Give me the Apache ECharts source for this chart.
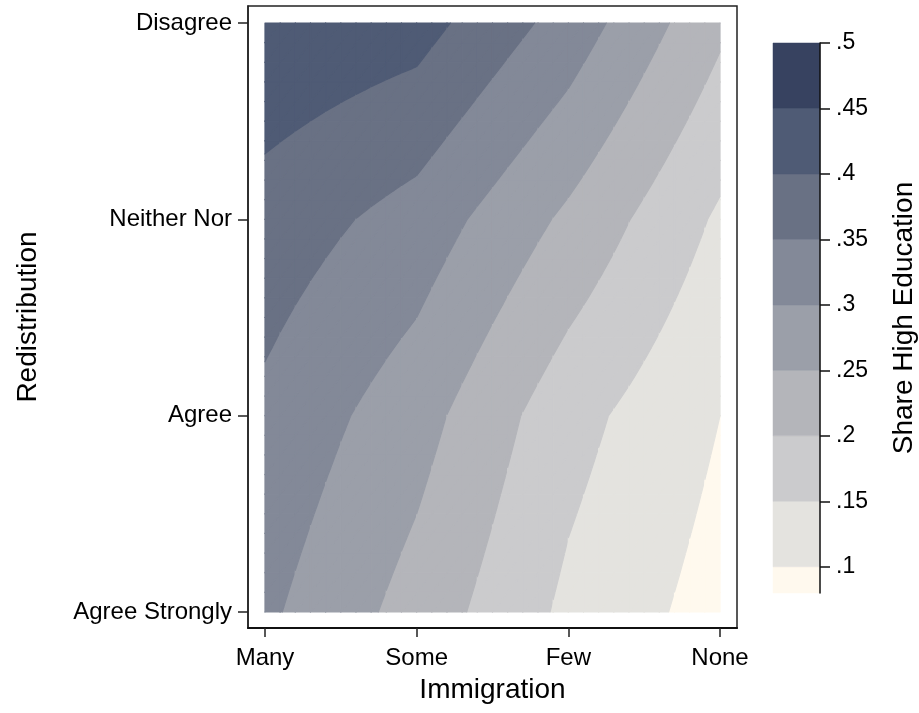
<!DOCTYPE html>
<html>
<head>
<meta charset="utf-8">
<script src="https://cdn.jsdelivr.net/npm/echarts@6/dist/echarts.min.js"></script>
<style>
html,body{margin:0;padding:0;background:#fff;}
#chart{width:919px;height:713px;}
</style>
</head>
<body>
<div id="chart"></div>
<script>
// categories
var immigration = ['Many', 'Some', 'Few', 'None'];
var redistribution = ['Agree Strongly', 'Agree', 'Neither Nor', 'Disagree'];

// share high education, one array per redistribution answer (Many..None)
var shareAgreeStrongly = [0.309, 0.230, 0.139, 0.080];
var shareAgree         = [0.339, 0.270, 0.168, 0.100];
var shareNeitherNor    = [0.379, 0.330, 0.240, 0.142];
var shareDisagree      = [0.442, 0.420, 0.330, 0.210];

// contour cut points / colorbar ticks
var cutoffs = [0.1, 0.15, 0.2, 0.25, 0.3, 0.35, 0.4, 0.45, 0.5];
var bandColors = ['#fff9ee', '#e4e3df', '#cbcbcd', '#b4b5ba', '#9b9fa9',
                  '#838998', '#697184', '#4f5b75', '#374260'];

var FONT = 'Arial, "Liberation Sans", Helvetica, sans-serif';

var rows = [shareAgreeStrongly, shareAgree, shareNeitherNor, shareDisagree];
var zmin = Math.min.apply(null, [].concat(shareAgreeStrongly, shareAgree, shareNeitherNor, shareDisagree));

// band k: [lo, hi)
function bandLo(k){ return k === 0 ? -Infinity : cutoffs[k - 1]; }
function bandHi(k){ return k === bandColors.length - 1 ? Infinity : cutoffs[k]; }

// clip polygon of [x, y, v] by level
function clip(poly, level, above){
    var out = [];
    for (var k = 0; k < poly.length; k++) {
        var a = poly[k], b = poly[(k + 1) % poly.length];
        var ina = above ? a[2] >= level : a[2] <= level;
        var inb = above ? b[2] >= level : b[2] <= level;
        if (ina) out.push(a);
        if (ina !== inb) {
            var t = (level - a[2]) / (b[2] - a[2]);
            out.push([a[0] + t * (b[0] - a[0]), a[1] + t * (b[1] - a[1]), level]);
        }
    }
    return out;
}

var cells = [];
for (var j = 0; j < 3; j++) {
    for (var i = 0; i < 3; i++) cells.push([i, j]);
}

function renderCell(params, api){
    var i = api.value(0), j = api.value(1);
    var v00 = rows[j][i], v10 = rows[j][i + 1], v01 = rows[j + 1][i], v11 = rows[j + 1][i + 1];
    var N = 10;
    var children = [];
    function pt(a, b){
        var s = a / N, t = b / N;
        var v = v00 * (1 - s) * (1 - t) + v10 * s * (1 - t) + v01 * (1 - s) * t + v11 * s * t;
        return [i + s, j + t, v];
    }
    for (var a = 0; a < N; a++) {
        for (var b = 0; b < N; b++) {
            var p00 = pt(a, b), p10 = pt(a + 1, b), p01 = pt(a, b + 1), p11 = pt(a + 1, b + 1);
            var tris = [[p00, p10, p11], [p00, p11, p01]];
            for (var q = 0; q < 2; q++) {
                for (var k = 0; k < bandColors.length; k++) {
                    var poly = tris[q];
                    var lo = bandLo(k), hi = bandHi(k);
                    if (lo > -Infinity) poly = clip(poly, lo, true);
                    if (poly.length >= 3 && hi < Infinity) poly = clip(poly, hi, false);
                    if (poly.length < 3) continue;
                    var pts = poly.map(function (p) { return api.coord([p[0], p[1]]); });
                    children.push({
                        type: 'polygon',
                        shape: { points: pts },
                        style: { fill: bandColors[k], stroke: bandColors[k], lineWidth: 1.2, lineJoin: 'round' },
                        silent: true
                    });
                }
            }
        }
    }
    return { type: 'group', children: children };
}

// colorbar blocks
var bars = [];
for (var k = 0; k < bandColors.length; k++) {
    bars.push([k, k === 0 ? zmin : cutoffs[k - 1], cutoffs[k]]);
}
function renderBar(params, api){
    var k = api.value(0);
    var p0 = api.coord([0, api.value(2)]);
    var p1 = api.coord([1, api.value(1)]);
    return {
        type: 'rect',
        shape: { x: p0[0], y: p0[1], width: p1[0] - p0[0], height: p1[1] - p0[1] },
        style: { fill: bandColors[k], stroke: bandColors[k], lineWidth: 0.5 }
    };
}

var myChart = echarts.init(document.getElementById('chart'));
myChart.setOption({
    animation: false,
    backgroundColor: '#fff',
    textStyle: { fontFamily: FONT, color: '#000' },
    grid: [
        { left: 248, top: 6, width: 489, height: 622, show: true, borderColor: '#222', borderWidth: 1.5, backgroundColor: '#fff', outerBoundsMode: 'none' },
        { left: 773, top: 43, width: 47, height: 550, outerBoundsMode: 'none' }
    ],
    xAxis: [
        {
            gridIndex: 0, type: 'value', min: -0.112, max: 3.112,
            name: 'Immigration', nameLocation: 'middle', nameGap: 48,
            nameTextStyle: { fontSize: 28, fontFamily: FONT, color: '#000' },
            axisLine: { show: true, onZero: false, lineStyle: { color: '#111', width: 2 } },
            axisTick: { show: true, customValues: [0, 1, 2, 3], length: 9, lineStyle: { color: '#222', width: 1.5 } },
            axisLabel: {
                customValues: [0, 1, 2, 3], fontSize: 24, margin: 18, color: '#000', fontFamily: FONT,
                formatter: function (v) { return immigration[Math.round(v)]; }
            },
            splitLine: { show: false }
        },
        { gridIndex: 1, type: 'value', min: 0, max: 1, show: false }
    ],
    yAxis: [
        {
            gridIndex: 0, type: 'value', min: -0.0815, max: 3.0866,
            name: 'Redistribution', nameLocation: 'middle', nameGap: 206, nameRotate: 90,
            nameTextStyle: { fontSize: 28, fontFamily: FONT, color: '#000' },
            axisLine: { show: true, onZero: false, lineStyle: { color: '#222', width: 1.5 } },
            axisTick: { show: true, customValues: [0, 1, 2, 3], length: 10, lineStyle: { color: '#222', width: 1.5 } },
            axisLabel: {
                customValues: [0, 1, 2, 3], fontSize: 24, margin: 16, color: '#000', fontFamily: FONT,
                formatter: function (v) { return redistribution[Math.round(v)]; }
            },
            splitLine: { show: false }
        },
        {
            gridIndex: 1, type: 'value', position: 'right', min: zmin, max: 0.5, z: 5,
            name: 'Share High Education', nameLocation: 'middle', nameGap: 70, nameRotate: 90,
            nameTextStyle: { fontSize: 28, fontFamily: FONT, color: '#000' },
            axisLine: { show: true, onZero: false, lineStyle: { color: '#111', width: 1.5 } },
            axisTick: { show: true, customValues: cutoffs, length: 10, lineStyle: { color: '#111', width: 1.5 } },
            axisLabel: {
                customValues: cutoffs, fontSize: 23, margin: 16, color: '#000', fontFamily: FONT,
                formatter: function (v) { return String(parseFloat(v.toFixed(2))).replace(/^0/, ''); }
            },
            splitLine: { show: false }
        }
    ],
    series: [
        {
            type: 'custom', xAxisIndex: 0, yAxisIndex: 0,
            data: cells, renderItem: renderCell, encode: { x: 0, y: 1 }, silent: true
        },
        {
            type: 'custom', xAxisIndex: 1, yAxisIndex: 1,
            data: bars, renderItem: renderBar, encode: { x: 0, y: [1, 2] }, silent: true
        }
    ]
});
</script>
</body>
</html>
